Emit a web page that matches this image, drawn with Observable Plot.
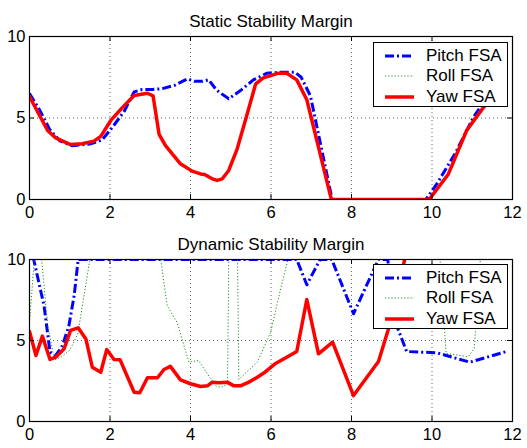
<!DOCTYPE html>
<html>
<head>
<meta charset="utf-8">
<script src="https://cdn.jsdelivr.net/npm/d3@7"></script>
<script src="https://cdn.jsdelivr.net/npm/@observablehq/plot@0.6"></script>
<style>
  html, body { margin: 0; padding: 0; background: #fff; }
  #chart { position: relative; width: 527px; height: 448px; background: #fff; font-family: "Liberation Sans", Arial, Helvetica, sans-serif; }
  #chart svg.plot { position: absolute; left: 0; }
  .legend { position: absolute; background: #fff; border: 1.5px solid #000; box-sizing: border-box; }
  .legend .row { position: absolute; left: 0; height: 20px; display: flex; align-items: center; font-size: 17px; color: #000; white-space: nowrap; }
  .legend .row svg { margin-left: 11px; margin-right: 12px; }
</style>
</head>
<body>
<div id="chart"></div>
<script>
// ---------- data ----------
const xTicks = [0, 2, 4, 6, 8, 10, 12];
const yTicks = [0, 5, 10];
const seriesNames = ["Pitch FSA", "Roll FSA", "Yaw FSA"];
const panelTitles = ["Static Stability Margin", "Dynamic Stability Margin"];

const staticPitch = [[0,6.5],[0.25,5.5],[0.5,4.3],[0.75,3.6],[1.05,3.3],[1.5,3.4],[1.8,3.65],[2.05,4.4],[2.35,5.4],[2.6,6.6],[2.8,6.75],[3.05,6.75],[3.3,6.8],[3.6,7.0],[3.92,7.4],[4.1,7.25],[4.3,7.25],[4.45,7.35],[4.65,6.7],[4.95,6.18],[5.25,6.7],[5.57,7.35],[5.9,7.75],[6.2,7.8],[6.6,7.8],[6.75,7.5],[6.98,6.35],[7.52,0],[9.85,0],[10.12,0.96],[10.57,2.8],[11.03,5.05],[11.31,6.07],[11.6,7.0]];
const staticRoll = [[0,6.32],[0.45,4.23],[0.65,3.78],[1.02,3.37],[1.31,3.42],[1.6,3.58],[1.77,3.87],[2.02,4.85],[2.3,5.62],[2.6,6.38],[2.93,6.52],[3.07,6.36],[3.22,3.99],[3.38,3.31],[3.75,2.19],[4.04,1.74],[4.25,1.57],[4.35,1.53],[4.54,1.27],[4.66,1.17],[4.79,1.27],[4.95,1.78],[5.16,3.11],[5.41,5.26],[5.62,7.1],[5.81,7.46],[6.19,7.75],[6.39,7.75],[6.64,7.34],[6.89,6.12],[7.5,0],[9.93,0],[10.4,1.53],[10.86,4.23],[11.27,5.62],[11.6,6.6]];
const staticYaw = [[0,6.32],[0.45,4.23],[0.65,3.78],[1.02,3.37],[1.31,3.42],[1.6,3.58],[1.77,3.87],[2.02,4.85],[2.3,5.62],[2.6,6.38],[2.93,6.52],[3.07,6.36],[3.22,3.99],[3.38,3.31],[3.75,2.19],[4.04,1.74],[4.25,1.57],[4.35,1.53],[4.54,1.27],[4.66,1.17],[4.79,1.27],[4.95,1.78],[5.16,3.11],[5.41,5.26],[5.62,7.1],[5.81,7.46],[6.19,7.75],[6.39,7.75],[6.64,7.34],[6.89,6.12],[7.5,0],[9.93,0],[10.4,1.53],[10.86,4.23],[11.27,5.62],[11.6,6.6]];

const dynamicPitch = [[0,11.2],[0.11,9.94],[0.36,7.16],[0.51,4.28],[0.65,4.07],[0.82,4.69],[0.98,5.93],[1.11,7.78],[1.21,10],[6.64,10],[6.89,8.44],[7.22,10],[7.51,10],[8.05,6.65],[8.67,10],[8.9,10],[9.12,5.93],[9.37,4.32],[10.12,4.24],[10.94,3.66],[11.85,4.32]];
const dynamicRoll = [[0,6.1],[0.12,10],[0.3,10],[0.45,6],[0.62,3.8],[0.8,4.0],[1.0,4.4],[1.2,5.4],[1.5,10],[3.26,10],[3.42,7.16],[3.67,6.1],[3.96,3.66],[4.2,3.77],[4.33,3.27],[4.62,2.22],[4.75,2.1],[4.92,2.3],[4.95,10],[5.17,10],[5.2,2.6],[5.66,3.66],[5.99,5.5],[6.24,8.2],[6.42,10],[10.2,10],[10.35,4.2],[10.9,4.0],[11.05,4.5],[11.2,10],[12,10]];
const dynamicYaw = [[0,5.56],[0.16,4.07],[0.32,5.27],[0.51,3.83],[0.65,3.97],[0.86,4.49],[1.02,5.62],[1.21,5.78],[1.4,5.1],[1.56,3.35],[1.77,3.04],[1.92,4.44],[2.1,3.83],[2.25,3.81],[2.6,1.81],[2.74,1.77],[2.93,2.7],[3.18,2.7],[3.34,3.21],[3.5,3.4],[3.75,2.57],[4.0,2.33],[4.25,2.16],[4.42,2.2],[4.54,2.43],[4.7,2.39],[4.91,2.43],[5.08,2.2],[5.24,2.2],[5.45,2.43],[5.66,2.73],[5.82,2.99],[6.1,3.56],[6.39,3.97],[6.64,4.32],[6.89,7.53],[7.18,4.18],[7.53,4.9],[8.05,1.6],[8.67,3.7],[8.92,5.72],[9.35,10.3]];

// ---------- styles ----------
const styles = {
  "Pitch FSA": {stroke: "#0000ff", strokeWidth: 3, strokeDasharray: "9,3,2,3", strokeLinecap: "butt"},
  "Roll FSA": {stroke: "#1f8f1f", strokeWidth: 1, strokeDasharray: "1.2,2", strokeLinecap: "butt"},
  "Yaw FSA": {stroke: "#ff0000", strokeWidth: 3.5, strokeLinecap: "round"}
};

const W = 527, H = 224, ML = 29, MR = 15;

function panel(title, series, marginTop, marginBottom) {
  const frameH = H - marginTop - marginBottom;
  const frameW = W - ML - MR;
  const tick = 5;
  const grid = {stroke: "#000", strokeOpacity: 0.6, strokeWidth: 1, strokeDasharray: "1,3"};
  const marks = [
    Plot.ruleX(xTicks.slice(1, -1), grid),
    Plot.ruleY(yTicks.slice(1, -1), grid)
  ];
  series.forEach(([name, data]) => {
    marks.push(Plot.line(data, {x: d => d[0], y: d => d[1], clip: true, strokeLinejoin: "round", ...styles[name]}));
  });
  marks.push(
    Plot.ruleX(xTicks, {insetTop: frameH - tick, stroke: "#000"}),
    Plot.ruleX(xTicks, {insetBottom: frameH - tick, stroke: "#000"}),
    Plot.ruleY(yTicks, {insetRight: frameW - tick, stroke: "#000"}),
    Plot.ruleY(yTicks, {insetLeft: frameW - tick, stroke: "#000"}),
    Plot.frame({stroke: "#000", strokeWidth: 1.2}),
    Plot.text([title], {frameAnchor: "top", dy: -21.5, fontSize: 17, fill: "#000"})
  );
  return Plot.plot({
    width: W, height: H,
    marginLeft: ML, marginRight: MR, marginTop, marginBottom,
    style: {fontFamily: "'Liberation Sans', Arial, Helvetica, sans-serif", fontSize: "16.5px", color: "#000", background: "transparent", overflow: "visible"},
    x: {domain: [0, 12], ticks: xTicks, tickSize: 0, tickPadding: 7, label: null},
    y: {domain: [0, 10], ticks: yTicks, tickSize: 0, tickPadding: 4, label: null},
    marks
  });
}

function legend(top) {
  const div = document.createElement("div");
  div.className = "legend";
  Object.assign(div.style, {left: "373px", top: top + "px", width: "135px", height: "65px"});
  seriesNames.forEach((name, i) => {
    const row = document.createElement("div");
    row.className = "row";
    row.style.top = (2.5 + i * 20.5) + "px";
    const s = styles[name];
    const svg = d3.create("svg").attr("width", 29).attr("height", 8);
    svg.append("line").attr("x1", 0).attr("x2", 29).attr("y1", 4).attr("y2", 4)
      .attr("stroke", s.stroke).attr("stroke-width", s.strokeWidth)
      .attr("stroke-dasharray", s.strokeDasharray || null).attr("stroke-linecap", "butt");
    row.appendChild(svg.node());
    const t = document.createElement("span");
    t.textContent = name;
    row.appendChild(t);
    div.appendChild(row);
  });
  return div;
}

const chart = document.getElementById("chart");
const p1 = panel(panelTitles[0], [["Pitch FSA", staticPitch], ["Roll FSA", staticRoll], ["Yaw FSA", staticYaw]], 36, 25);
p1.classList.add("plot"); p1.style.top = "0px";
const p2 = panel(panelTitles[1], [["Pitch FSA", dynamicPitch], ["Roll FSA", dynamicRoll], ["Yaw FSA", dynamicYaw]], 35, 27);
p2.classList.add("plot"); p2.style.top = "224px";
chart.appendChild(p1);
chart.appendChild(p2);
chart.appendChild(legend(42));
chart.appendChild(legend(264));
</script>
</body>
</html>
